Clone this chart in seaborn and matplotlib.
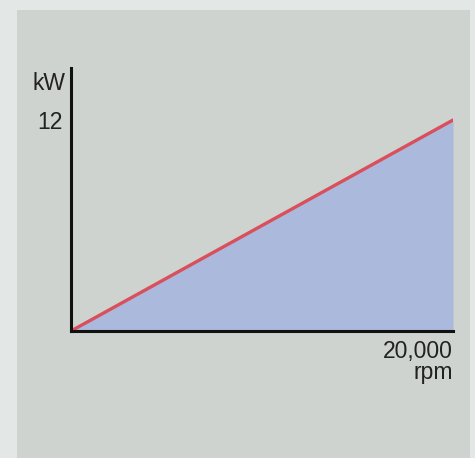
import matplotlib.pyplot as plt
import matplotlib.patches as mpatches
import pandas as pd
import seaborn as sns

# power rises linearly with speed
rpm = [0, 20000]
kw = [0, 12]
y_ticks = [12]
y_tick_labels = ["12"]

sns.set_style("white")
plt.rcParams["font.family"] = ["Liberation Sans", "DejaVu Sans"]

df = pd.DataFrame({"rpm": rpm, "kW": kw})

fig = plt.figure(figsize=(4.75, 4.58), dpi=100)
fig.patch.set_facecolor("#e3e7e5")
# grey panel behind the chart
fig.patches.append(mpatches.Rectangle((17 / 475, 0), 453 / 475, 448 / 458,
                                      transform=fig.transFigure,
                                      facecolor="#ced3cf", edgecolor="none", zorder=-5))

ax = fig.add_axes([71 / 475, 1 - 331 / 458, 382 / 475, 263 / 458])
ax.set_zorder(2)
ax.set_facecolor("none")

ax.fill_between(df["rpm"], df["kW"], color="#aab9dc", linewidth=0, zorder=1)
sns.lineplot(data=df, x="rpm", y="kW", ax=ax, color="#d9505c", linewidth=2.4, zorder=3)

ax.set_xlim(0, 20000)
ax.set_ylim(0, 14.96)
ax.set_yticks(y_ticks)
ax.set_yticklabels(y_tick_labels, fontsize=16.5, color="#222222")
ax.set_xticks([])
ax.tick_params(axis="y", length=0, pad=6)
ax.set_xlabel("")
ax.set_ylabel("")

for side in ["top", "right"]:
    ax.spines[side].set_visible(False)
for side in ["left", "bottom"]:
    ax.spines[side].set_color("#111111")
    ax.spines[side].set_linewidth(2.2)
    ax.spines[side].set_zorder(4)

ax.text(-0.015, 0.985, "kW", transform=ax.transAxes, ha="right", va="top",
        fontsize=16.5, color="#222222")
ax.text(1.0, -0.035, "20,000\nrpm", transform=ax.transAxes, ha="right", va="top",
        fontsize=16.5, color="#222222", linespacing=0.85)

fig.savefig("out.png", dpi=100, facecolor=fig.get_facecolor())
